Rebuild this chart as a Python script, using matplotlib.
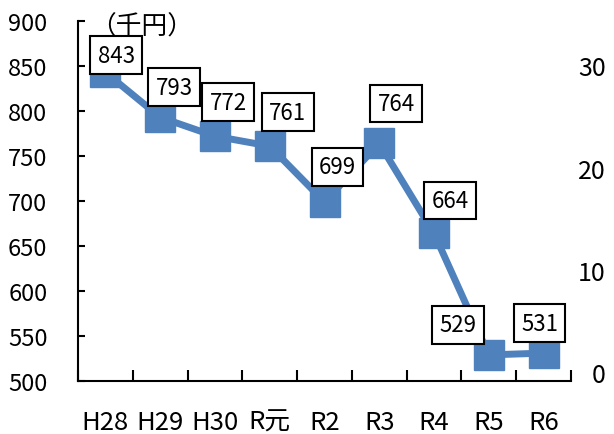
import numpy as np
import matplotlib.pyplot as plt

plt.rcParams['font.family'] = ['Noto Sans CJK JP', 'DejaVu Sans']

# data
years = ['H28', 'H29', 'H30', 'R元', 'R2', 'R3', 'R4', 'R5', 'R6']
values = [843, 793, 772, 761, 699, 764, 664, 529, 531]
right_ticks = [0, 10, 20, 30]
# label offsets in pixels (placed by hand in the original)
lab_dx = [11, 14, 13, 18, 13, 17, 16, -31, -4]
lab_dy = [17, 30, 34, 34, 35, 40, 33, 30, 30]

blue = '#4F81BD'

fig = plt.figure(figsize=(6.14, 4.35), dpi=100)
ax = fig.add_axes([78/614, 1-382/435, (571-78)/614, (382-22)/435])

x = np.arange(len(years))
ax.plot(x, values, color=blue, lw=5, marker='s', ms=21, zorder=3)

for xi, v, dx, dy in zip(x, values, lab_dx, lab_dy):
    ax.annotate(str(v), (xi, v), xytext=(dx, dy), textcoords='offset pixels',
                ha='center', va='center', fontsize=16, zorder=5,
                bbox=dict(boxstyle='square,pad=0.33', fc='white', ec='black', lw=1.5))

ax.set_xlim(-0.5, len(years) - 0.5)
ax.set_ylim(500, 900)
ax.set_yticks(np.arange(500, 901, 50))
ax.set_xticks(np.arange(-0.5, len(years)), labels=[])
ax.set_xticks(x, labels=years, minor=True)
ax.tick_params(axis='x', which='major', direction='in', length=8, width=1.5)
ax.tick_params(axis='x', which='minor', length=0, pad=20, labelsize=18.5)
ax.tick_params(axis='y', direction='in', length=5, width=1.5, pad=22, labelsize=17)
for s in ['top', 'right']:
    ax.spines[s].set_visible(False)
for s in ['left', 'bottom']:
    ax.spines[s].set_linewidth(1.5)

ax.text(0.025, 0.985, '（千円）', transform=ax.transAxes, ha='left', va='center',
        fontsize=18.5)

ax2 = ax.twinx()
ax2.set_ylim(-0.85, 34.35)
ax2.set_yticks(right_ticks, labels=[str(t) for t in right_ticks], ha='right')
ax2.tick_params(axis='y', length=0, pad=25, labelsize=18)
for s in ax2.spines.values():
    s.set_visible(False)

fig.savefig('out.png', dpi=100)
